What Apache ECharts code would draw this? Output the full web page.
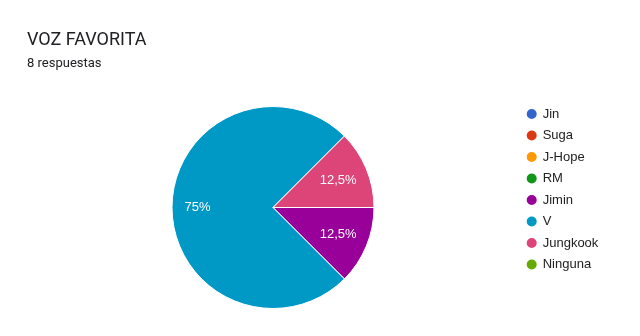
<!DOCTYPE html>
<html><head><meta charset="utf-8">
<script src="https://cdn.jsdelivr.net/npm/echarts@6/dist/echarts.min.js"></script>
<style>html,body{margin:0;padding:0;background:#fff}#c{width:640px;height:336px}</style>
</head><body><div id="c"></div>
<script>
const categories = ['Jin','Suga','J-Hope','RM','Jimin','V','Jungkook','Ninguna'];
const counts = [0,0,0,0,1,6,1,0];
const colors = ['#3366cc','#dc3912','#ff9900','#109618','#990099','#0099c6','#dd4477','#66aa00'];
const titleText = 'VOZ FAVORITA';
const subText = '8 respuestas';

const data = categories.map((n,i)=>({name:n,value:counts[i],itemStyle:{color:colors[i]}}));
const fmt = p => p.value ? (String(+p.percent.toFixed(1)).replace('.',',') + '%') : '';
const chart = echarts.init(document.getElementById('c'));
chart.setOption({
  animation:false,
  title:{text:titleText,subtext:subText,left:27,top:31,itemGap:8,padding:0,
    textStyle:{fontFamily:'Roboto',fontSize:18,fontWeight:'normal',color:'#202124'},
    subtextStyle:{fontFamily:'Roboto',fontSize:13,color:'#202124'}},
  legend:{orient:'vertical',left:524.7,top:107,padding:0,icon:'circle',itemWidth:12,itemHeight:12,itemGap:7.5,
    data:categories,selectedMode:false,
    textStyle:{fontFamily:'Liberation Sans, Arial',fontSize:13,color:'#222'}},
  series:[
    {type:'pie',center:[273,207.5],radius:[0,101],startAngle:0,clockwise:true,silent:true,
     itemStyle:{borderColor:'#fff',borderWidth:1},label:{show:false},labelLine:{show:false},data:data},
    {type:'pie',center:[273,207.5],radius:[34,101],startAngle:0,clockwise:true,silent:true,
     itemStyle:{color:'transparent',borderWidth:0},labelLine:{show:false},
     labelLayout:p=>p.dataIndex===5?{dx:-5}:{},
     label:{show:true,position:'inside',formatter:fmt,color:'#fff',fontFamily:'Liberation Sans, Arial',fontSize:13},
     data:categories.map((n,i)=>({name:n,value:counts[i]}))}
  ]
});
</script></body></html>
